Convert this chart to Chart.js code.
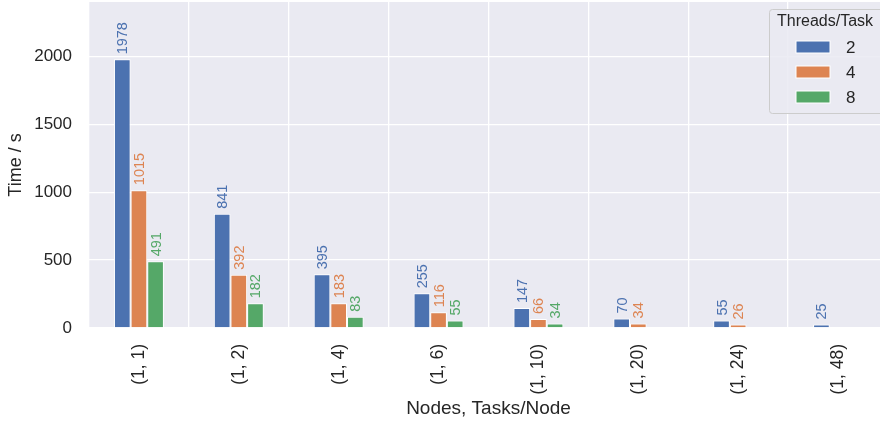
<!DOCTYPE html>
<html>
<head>
<meta charset="utf-8">
<script src="https://cdn.jsdelivr.net/npm/chart.js@4/dist/chart.umd.min.js"></script>
<style>
  html, body { margin: 0; padding: 0; background: #fff; overflow: hidden; }
  #wrap { width: 890px; height: 424px; }
</style>
</head>
<body>
<div id="wrap"><canvas id="chart"></canvas></div>
<script>
const categories = ['(1, 1)', '(1, 2)', '(1, 4)', '(1, 6)', '(1, 10)', '(1, 20)', '(1, 24)', '(1, 48)'];
const threads2 = [1978, 841, 395, 255, 147, 70, 55, 25];
const threads4 = [1015, 392, 183, 116, 66, 34, 26, null];
const threads8 = [491, 182, 83, 55, 34, null, null, null];
const seriesNames = ['2', '4', '8'];
const colors = ['#4C72B0', '#DD8452', '#55A868'];
const yTicks = [0, 500, 1000, 1500, 2000];

const FONT = "'Liberation Sans', Arial, sans-serif";
const textColor = '#262626';

// grey plot background
const bgPlugin = {
  id: 'bg',
  beforeDraw(chart) {
    const { ctx, chartArea: a } = chart;
    ctx.save();
    ctx.fillStyle = '#EAEAF2';
    ctx.fillRect(a.left, a.top, a.right - a.left, a.bottom - a.top);
    ctx.restore();
  }
};

// rotated value labels above each bar
const valueLabels = {
  id: 'valueLabels',
  afterDatasetsDraw(chart) {
    const ctx = chart.ctx;
    ctx.save();
    ctx.font = '14.5px ' + FONT;
    ctx.textAlign = 'left';
    ctx.textBaseline = 'middle';
    chart.data.datasets.forEach((ds, i) => {
      const meta = chart.getDatasetMeta(i);
      meta.data.forEach((bar, j) => {
        const v = ds.data[j];
        if (v == null) return;
        ctx.save();
        ctx.translate(bar.x + 1, bar.y - 5);
        ctx.rotate(-Math.PI / 2);
        ctx.fillStyle = colors[i];
        ctx.fillText(String(v), 0, 0);
        ctx.restore();
      });
    });
    ctx.restore();
  }
};

// matplotlib style legend box in the upper right
const legendBox = {
  id: 'legendBox',
  afterDraw(chart) {
    const ctx = chart.ctx;
    const x = 769, y = 9, w = 118, h = 104;
    ctx.save();
    ctx.fillStyle = 'rgba(234,234,242,0.85)';
    ctx.strokeStyle = '#cccccc';
    ctx.lineWidth = 1;
    ctx.beginPath();
    ctx.roundRect(x + 0.5, y + 0.5, w, h, 3);
    ctx.fill();
    ctx.stroke();
    ctx.fillStyle = textColor;
    ctx.font = '16px ' + FONT;
    ctx.textAlign = 'left';
    ctx.textBaseline = 'middle';
    ctx.fillText('Threads/Task', 777, 22);
    ctx.font = '17px ' + FONT;
    seriesNames.forEach((name, i) => {
      const cy = 47 + i * 25;
      ctx.fillStyle = colors[i];
      ctx.fillRect(796, cy - 6, 34, 12);
      ctx.strokeStyle = '#ffffff';
      ctx.strokeRect(796, cy - 6, 34, 12);
      ctx.fillStyle = textColor;
      ctx.fillText(name, 846, cy + 1);
    });
    ctx.restore();
  }
};

const datasets = [threads2, threads4, threads8].map((d, i) => ({
  label: seriesNames[i],
  data: d,
  backgroundColor: colors[i],
  borderColor: '#ffffff',
  borderWidth: 1,
  categoryPercentage: 0.5,
  barPercentage: 1.0
}));

const noEdgePadding = (scale) => {
  scale.paddingTop = 0;
  scale.paddingBottom = 0;
  scale.paddingLeft = 0;
  scale.paddingRight = 0;
};

new Chart(document.getElementById('chart'), {
  type: 'bar',
  data: { labels: categories, datasets: datasets },
  plugins: [bgPlugin, valueLabels, legendBox],
  options: {
    responsive: true,
    maintainAspectRatio: false,
    animation: false,
    layout: { padding: { top: 2, right: 2, left: 0, bottom: 0 } },
    plugins: { legend: { display: false }, tooltip: { enabled: false } },
    scales: {
      x: {
        afterFit(scale) {
          noEdgePadding(scale);
          scale.height = 96;
        },
        grid: { color: '#ffffff', lineWidth: 1.3, drawTicks: false },
        border: { display: false },
        ticks: {
          color: textColor, font: { family: FONT, size: 17.5 },
          minRotation: 90, maxRotation: 90, padding: 16
        },
        title: {
          display: true, text: 'Nodes, Tasks/Node', color: textColor,
          font: { family: FONT, size: 19 }, padding: { top: 0, bottom: 4 }
        }
      },
      y: {
        min: 0, max: 2400,
        afterBuildTicks(scale) {
          scale.ticks = yTicks.map(v => ({ value: v }));
        },
        afterFit(scale) {
          noEdgePadding(scale);
          scale.width = 89;
        },
        grid: { color: '#ffffff', lineWidth: 1.3, drawTicks: false },
        border: { display: false },
        ticks: {
          color: textColor, font: { family: FONT, size: 17 }, padding: 17,
          callback: v => String(v)
        },
        title: {
          display: true, text: 'Time / s', color: textColor,
          font: { family: FONT, size: 18 }, padding: { top: 5, bottom: 0 }
        }
      }
    }
  }
});
</script>
</body>
</html>
